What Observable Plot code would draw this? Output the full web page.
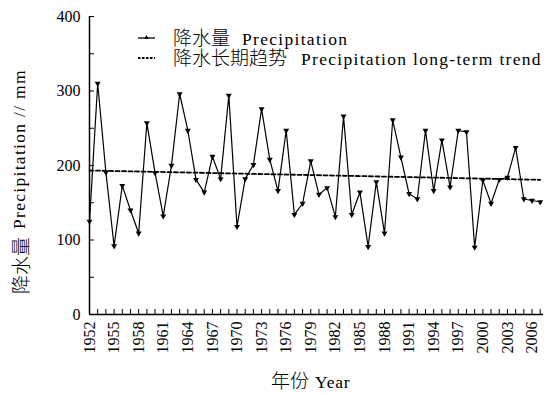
<!DOCTYPE html>
<html><head><meta charset="utf-8">
<script src="https://cdn.jsdelivr.net/npm/d3@7"></script>
<script src="https://cdn.jsdelivr.net/npm/@observablehq/plot@0.6"></script>
<style>
body{margin:0;background:#fff;}
#wrap{position:relative;width:552px;height:395px;overflow:hidden;}
#overlay{position:absolute;left:0;top:0;pointer-events:none;}
.cjk{font-family:"Noto Sans CJK SC",sans-serif;font-size:19px;font-weight:300;}
.lat{font-family:"Liberation Serif",serif;font-size:17.5px;letter-spacing:1.3px;}
</style></head><body><div id="wrap"></div>
<script>
// ---- data ----
const years = [1952,1953,1954,1955,1956,1957,1958,1959,1960,1961,1962,1963,1964,1965,1966,1967,1968,1969,1970,1971,1972,1973,1974,1975,1976,1977,1978,1979,1980,1981,1982,1983,1984,1985,1986,1987,1988,1989,1990,1991,1992,1993,1994,1995,1996,1997,1998,1999,2000,2001,2002,2003,2004,2005,2006,2007];
const precipitation = [125,310,191,92,173,140,109,257,190,132,200,296,247,181,164,212,182,294,118,182,201,276,208,166,247,134,149,206,161,170,131,266,134,164,91,178,109,261,211,162,155,247,166,234,171,247,245,90,180,149,181,184,224,155,153,151];
const trendYears = [1952, 2007];
const trendValues = [193.3, 180.8];
const yTickLabels = [0, 100, 200, 300, 400];
const yTickMarks = [0, 50, 100, 150, 200, 250, 300, 350, 400];
const xTickLabels = [1952,1955,1958,1961,1964,1967,1970,1973,1976,1979,1982,1985,1988,1991,1994,1997,2000,2003,2006];

const series = years.map((y, i) => ({year: y, value: precipitation[i]}));
const trend = trendYears.map((y, i) => ({year: y, value: trendValues[i]}));

const W = 552, H = 395, mL = 89, mR = 9, mT = 16, mB = 81;
const plotW = W - mL - mR, plotH = H - mT - mB;

const chart = Plot.plot({
  width: W, height: H,
  marginLeft: mL, marginRight: mR, marginTop: mT, marginBottom: mB,
  style: {fontFamily: "'Liberation Serif', serif", fontSize: "16px", color: "#000", background: "#fff"},
  x: {domain: [1952, 2007.4], label: null},
  y: {domain: [0, 400], label: null},
  marks: [
    Plot.axisX({ticks: xTickLabels, tickSize: 0, tickRotate: -90, tickPadding: 7, tickFormat: d => String(d), fontSize: 16}),
    Plot.axisY({ticks: yTickLabels, tickSize: 0, tickPadding: 9, fontSize: 16}),
    Plot.tickX(years, {x: d => d, insetTop: plotH - 5, stroke: "#000", strokeWidth: 1}),
    Plot.tickY(yTickMarks, {y: d => d, insetRight: plotW - 5, stroke: "#000", strokeWidth: 1}),
    Plot.ruleX([years[0]], {stroke: "#000", strokeWidth: 1.5}),
    Plot.ruleY([0], {stroke: "#000", strokeWidth: 1.5}),
    Plot.line(trend, {x: "year", y: "value", stroke: "#000", strokeWidth: 1.8, strokeDasharray: "4,2.5"}),
    Plot.line(series, {x: "year", y: "value", stroke: "#000", strokeWidth: 1.2}),
    Plot.dot(series, {x: "year", y: "value", symbol: "triangle", r: 2.2, fill: "#000", rotate: 180})
  ]
});

const wrap = document.getElementById("wrap");
wrap.appendChild(chart);

const ns = "http://www.w3.org/2000/svg";
const ov = document.createElementNS(ns, "svg");
ov.setAttribute("id", "overlay");
ov.setAttribute("width", W);
ov.setAttribute("height", H);
ov.innerHTML = `
  <line x1="138" y1="38" x2="155" y2="38" stroke="#000" stroke-width="1.3"/>
  <path d="M146.5,35 L144.3,39 L148.7,39 Z" fill="#000"/>
  <text class="cjk" x="173" y="45" fill="#000">降水量</text>
  <text class="lat" x="242" y="45" fill="#000">Precipitation</text>
  <line x1="138" y1="58" x2="155" y2="58" stroke="#000" stroke-width="1.8" stroke-dasharray="2.5,1.5"/>
  <text class="cjk" x="173" y="65" fill="#000">降水长期趋势</text>
  <text class="lat" x="301" y="65" fill="#000">Precipitation long-term trend</text>
  <g transform="translate(19,0) rotate(-90)">
    <text class="cjk" x="-294" y="0" dominant-baseline="central" fill="#000">降水量</text>
    <text class="lat" x="-229" y="0" dominant-baseline="central" fill="#000">Precipitation // mm</text>
  </g>
  <text class="cjk" x="271" y="388" fill="#000">年份</text>
  <text class="lat" x="315" y="388" fill="#000" style="letter-spacing:0.8px">Year</text>
`;
wrap.appendChild(ov);
</script>
</body></html>
